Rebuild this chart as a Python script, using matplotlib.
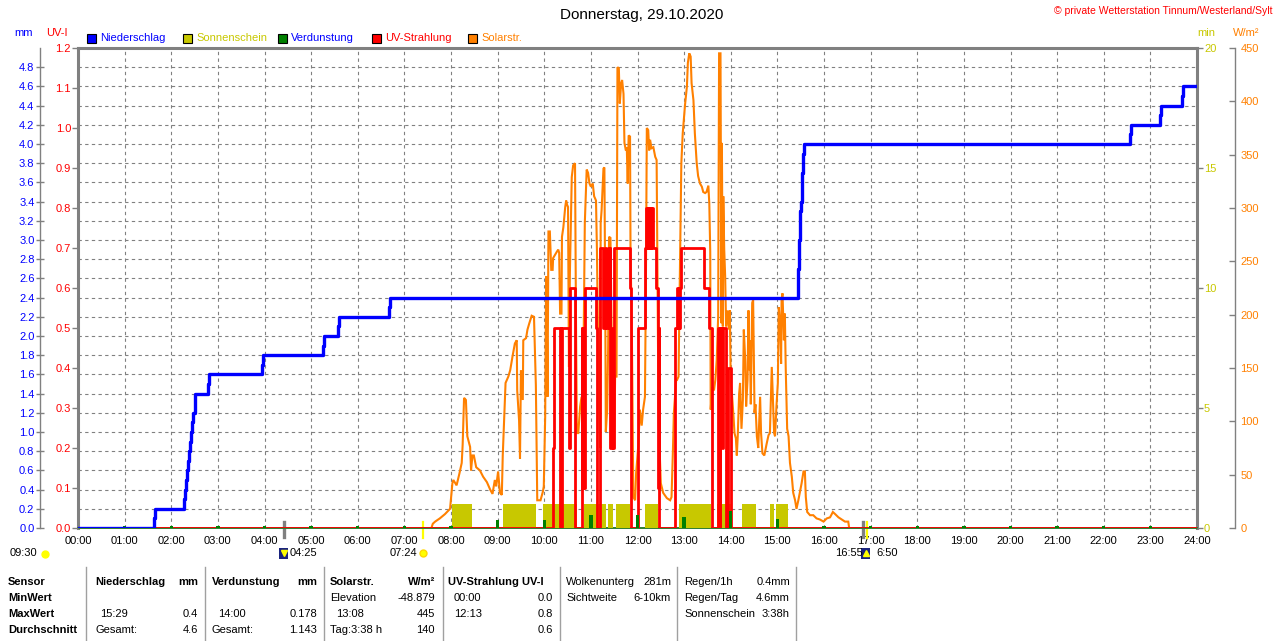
import matplotlib
matplotlib.use('Agg')
import matplotlib.pyplot as plt
from matplotlib.patches import Rectangle
from matplotlib.lines import Line2D
import numpy as np

plt.rcParams['font.family'] = ['Liberation Sans', 'DejaVu Sans']
plt.rcParams['font.size'] = 8

# ---------------- data ----------------
hours = list(range(25))
hour_labels = [f'{h:02d}:00' for h in hours]

# Niederschlag (cumulative mm), step after time (hours)
rain_t = [0.00, 1.64, 1.66, 2.28, 2.30, 2.31, 2.33, 2.36, 2.38, 2.40, 2.42, 2.44, 2.46,
          2.50, 2.52, 2.78, 2.80, 3.95, 3.97, 5.25, 5.27, 5.57, 5.59, 6.67, 6.69,
          15.44, 15.45, 15.46, 15.47, 15.48, 15.49, 15.50, 15.52, 15.53, 15.55, 15.56, 15.57,
          22.56, 22.58, 23.20, 23.22, 23.68, 23.70, 24.00]
rain_v = [0.0, 0.1, 0.2, 0.3, 0.4, 0.5, 0.6, 0.7, 0.8, 0.9, 1.0, 1.1, 1.2,
          1.3, 1.4, 1.5, 1.6, 1.7, 1.8, 1.9, 2.0, 2.1, 2.2, 2.3, 2.4,
          2.5, 2.7, 2.8, 3.0, 3.2, 3.3, 3.4, 3.6, 3.7, 3.8, 3.9, 4.0,
          4.1, 4.2, 4.3, 4.4, 4.5, 4.6, 4.6]

# Sonnenschein (min per min), intervals in hours
sun_start = [8.03, 9.11, 9.98, 10.85, 11.37, 11.54, 12.16, 12.90, 13.70, 14.25, 14.84, 14.97]
sun_end = [8.44, 9.82, 10.70, 11.32, 11.47, 11.84, 12.45, 13.58, 14.02, 14.54, 14.93, 15.22]
sun_val = [1, 1, 1, 1, 1, 1, 1, 1, 1, 1, 1, 1]

# Verdunstung (mm per hour)
evap_h = list(range(1, 24))
evap_v = [0.025, 0.025, 0.025, 0.025, 0.025, 0.025, 0.025, 0.025,
          0.083, 0.083, 0.135, 0.135, 0.11, 0.178, 0.09,
          0.025, 0.025, 0.025, 0.025, 0.025, 0.025, 0.025, 0.025]

# UV-Strahlung (UV-I), step after time
uv_t = [0.00, 10.19, 10.21, 10.33, 10.35, 10.36, 10.38, 10.54, 10.55, 10.67,
        10.80, 10.81, 10.83, 10.85, 10.87, 10.88, 11.11, 11.14, 11.19, 11.25,
        11.31, 11.33, 11.37, 11.38, 11.41, 11.42, 11.45, 11.47, 11.50, 11.84,
        11.86, 12.02, 12.17, 12.19, 12.20, 12.22, 12.24, 12.26, 12.28, 12.30,
        12.33, 12.40, 12.43, 12.45, 12.46, 12.47, 12.81, 12.85, 12.86, 12.88,
        12.89, 12.91, 12.93, 13.43, 13.54, 13.59, 13.72, 13.76, 13.77, 13.82,
        13.84, 13.90, 13.94, 14.00, 24.00]
uv_v = [0.0, 0.2, 0.5, 0.0, 0.5, 0.0, 0.5, 0.2, 0.6, 0.0,
        0.5, 0.1, 0.5, 0.1, 0.5, 0.6, 0.5, 0.0, 0.7, 0.5,
        0.7, 0.5, 0.7, 0.5, 0.7, 0.2, 0.5, 0.2, 0.7, 0.6,
        0.0, 0.5, 0.7, 0.8, 0.7, 0.8, 0.7, 0.8, 0.7, 0.8,
        0.7, 0.6, 0.5, 0.1, 0.5, 0.0, 0.5, 0.6, 0.5, 0.6,
        0.5, 0.6, 0.7, 0.6, 0.5, 0.0, 0.5, 0.0, 0.5, 0.2,
        0.5, 0.0, 0.4, 0.0, 0.0]

# Solarstrahlung (W/m2)
sol_t = [7.58, 7.61, 7.66, 7.76, 7.87, 7.98, 8.03, 8.05, 8.12, 8.18, 8.23, 8.25, 8.28, 8.32,
         8.35, 8.41, 8.43, 8.46, 8.49, 8.54, 8.62, 8.69, 8.77, 8.84, 8.89, 8.94, 8.97, 9.01,
         9.05, 9.09, 9.11, 9.14, 9.17, 9.23, 9.27, 9.32, 9.37, 9.41, 9.42, 9.46, 9.48, 9.50,
         9.54, 9.55, 9.61, 9.64, 9.68, 9.73, 9.78, 9.82, 9.84, 9.85, 9.92, 9.97, 9.99, 10.02,
         10.04, 10.06, 10.07, 10.09, 10.12, 10.15, 10.18, 10.19, 10.27, 10.30, 10.32, 10.34,
         10.37, 10.38, 10.41, 10.45, 10.47, 10.49, 10.51, 10.53, 10.55, 10.59, 10.62, 10.66,
         10.68, 10.70, 10.73, 10.77, 10.80, 10.83, 10.87, 10.91, 10.94, 10.97, 11.00, 11.04,
         11.07, 11.11, 11.13, 11.17, 11.20, 11.21, 11.23, 11.27, 11.29, 11.31, 11.32, 11.35,
         11.37, 11.39, 11.42, 11.45, 11.47, 11.50, 11.52, 11.55, 11.57, 11.60, 11.62, 11.65,
         11.67, 11.70, 11.72, 11.75, 11.77, 11.79, 11.81, 11.84, 11.85, 11.88, 11.91, 11.95,
         11.97, 12.02, 12.05, 12.09, 12.12, 12.16, 12.18, 12.20, 12.23, 12.25, 12.27, 12.30,
         12.34, 12.38, 12.41, 12.43, 12.45, 12.47, 12.50, 12.55, 12.63, 12.70, 12.73, 12.76,
         12.78, 12.83, 12.85, 12.88, 12.91, 12.94, 12.97, 13.00, 13.02, 13.06, 13.08, 13.11,
         13.14, 13.16, 13.20, 13.23, 13.27, 13.30, 13.34, 13.38, 13.41, 13.45, 13.48, 13.52,
         13.54, 13.56, 13.57, 13.60, 13.64, 13.67, 13.70, 13.73, 13.75, 13.78, 13.80, 13.81,
         13.83, 13.84, 13.86, 13.88, 13.90, 13.93, 13.96, 13.98, 14.00, 14.03, 14.06, 14.08,
         14.11, 14.13, 14.15, 14.18, 14.20, 14.23, 14.26, 14.28, 14.31, 14.33, 14.36, 14.38,
         14.40, 14.41, 14.43, 14.46, 14.48, 14.51, 14.53, 14.56, 14.59, 14.63, 14.65, 14.68,
         14.72, 14.77, 14.81, 14.84, 14.88, 14.90, 14.93, 14.95, 14.98, 15.01, 15.03, 15.06,
         15.08, 15.09, 15.11, 15.14, 15.16, 15.18, 15.21, 15.24, 15.27, 15.31, 15.34, 15.38,
         15.41, 15.45, 15.48, 15.52, 15.56, 15.59, 15.61, 15.64, 15.70, 15.77, 15.84, 15.91,
         15.99, 16.06, 16.13, 16.19, 16.24, 16.31, 16.38, 16.45, 16.52, 16.54]
sol_v = [0, 4, 6, 9, 13, 18, 42, 45, 40, 51, 61, 78, 122, 120,
         86, 76, 54, 68, 68, 57, 54, 48, 43, 36, 32, 45, 39, 53,
         33, 31, 68, 103, 136, 142, 148, 161, 173, 176, 129, 101, 65, 148,
         120, 176, 178, 186, 192, 199, 198, 134, 61, 26, 26, 34, 39, 104,
         236, 173, 123, 278, 278, 242, 242, 253, 259, 261, 258, 201,
         201, 273, 282, 301, 307, 303, 301, 151, 239, 329, 340, 342,
         200, 89, 89, 114, 123, 110, 286, 336, 333, 323, 320, 323,
         311, 307, 260, 120, 75, 286, 298, 337, 338, 200, 90, 111,
         167, 273, 272, 167, 76, 76, 142, 142, 432, 431, 398, 417,
         420, 407, 361, 354, 357, 323, 368, 367, 261, 179, 29, 26,
         51, 79, 111, 96, 111, 123, 229, 375, 373, 354, 364, 356,
         357, 348, 345, 223, 111, 79, 42, 33, 28, 26, 29, 73,
         108, 139, 139, 142, 245, 342, 370, 387, 397, 414, 436, 445,
         442, 417, 401, 370, 342, 330, 323, 320, 315, 314, 315, 321,
         304, 259, 111, 132, 129, 139, 158, 198, 445, 445, 192, 361,
         189, 311, 261, 236, 189, 204, 186, 204, 136, 123, 104, 89,
         84, 68, 86, 126, 136, 93, 120, 186, 158, 114, 139, 204,
         148, 176, 116, 211, 214, 108, 116, 86, 75, 123, 89, 70,
         68, 79, 87, 89, 151, 126, 89, 86, 114, 136, 207, 189,
         154, 214, 220, 176, 201, 148, 93, 86, 61, 48, 33, 26,
         18, 26, 33, 42, 53, 53, 29, 15, 12, 12, 9, 8,
         6, 9, 10, 15, 13, 10, 8, 6, 6, 0]

# astronomical events (hours)
moon_events = [4.417, 16.833]
sun_events = [7.40, 16.917]

# table texts
table_rows = [
    # (x, y, text, ha, bold)
    (8, 582, 'Sensor', 'left', True), (8, 598, 'MinWert', 'left', True),
    (8, 614, 'MaxWert', 'left', True), (8, 630, 'Durchschnitt', 'left', True),
    (95, 582, 'Niederschlag', 'left', True), (198, 582, 'mm', 'right', True),
    (100, 614, '15:29', 'left', False), (198, 614, '0.4', 'right', False),
    (95, 630, 'Gesamt:', 'left', False), (198, 630, '4.6', 'right', False),
    (212, 582, 'Verdunstung', 'left', True), (317, 582, 'mm', 'right', True),
    (218, 614, '14:00', 'left', False), (317, 614, '0.178', 'right', False),
    (212, 630, 'Gesamt:', 'left', False), (317, 630, '1.143', 'right', False),
    (330, 582, 'Solarstr.', 'left', True), (435, 582, 'W/m²', 'right', True),
    (330, 598, 'Elevation', 'left', False), (435, 598, '-48.879', 'right', False),
    (336, 614, '13:08', 'left', False), (435, 614, '445', 'right', False),
    (330, 630, 'Tag:3:38 h', 'left', False), (435, 630, '140', 'right', False),
    (448, 582, 'UV-Strahlung UV-I', 'left', True),
    (454, 598, '00:00', 'left', False), (553, 598, '0.0', 'right', False),
    (454, 614, '12:13', 'left', False), (553, 614, '0.8', 'right', False),
    (553, 630, '0.6', 'right', False),
    (566, 582, 'Wolkenunterg', 'left', False), (671, 582, '281m', 'right', False),
    (566, 598, 'Sichtweite', 'left', False), (671, 598, '6-10km', 'right', False),
    (684, 582, 'Regen/1h', 'left', False), (790, 582, '0.4mm', 'right', False),
    (684, 598, 'Regen/Tag', 'left', False), (790, 598, '4.6mm', 'right', False),
    (684, 614, 'Sonnenschein', 'left', False), (790, 614, '3:38h', 'right', False),
]
table_sep_x = [86, 205, 324, 443, 560, 677, 796]

# ---------------- figure ----------------
W, H = 1280, 641
fig = plt.figure(figsize=(12.8, 6.41), dpi=100)
fig.patch.set_facecolor('white')

def fx(x):
    return x / W

def fy(y):
    return 1 - y / H

L, R, T, B = 78, 1197, 48, 528
rect = [L / W, 1 - B / H, (R - L) / W, (B - T) / H]

BLUE = '#0000FF'
RED = '#FF0000'
ORANGE = '#FF8000'
YEL = '#C8C800'
GREEN = '#008000'
GREY = '#808080'

ax = fig.add_axes(rect)
ax.set_xlim(0, 24)
ax.set_ylim(0, 5)
ax.set_xticks(hours)
ax.set_xticklabels(hour_labels)
ax.set_yticks(np.arange(0.2, 4.81, 0.2))
ax.grid(True, color=GREY, linestyle=(0, (3, 3)), linewidth=0.8)
ax.tick_params(axis='y', length=0, labelleft=False, labelright=False)
ax.tick_params(axis='x', length=0, pad=6, labelsize=8)
for s in ['left', 'top', 'right']:
    ax.spines[s].set_color(GREY)
    ax.spines[s].set_linewidth(2.2)
ax.spines['bottom'].set_color('#2E7D32')
ax.spines['bottom'].set_linewidth(1.4)

def clean(a):
    for s in a.spines.values():
        s.set_visible(False)

# sunshine axis (min), right at frame
ax_sun = ax.twinx()
clean(ax_sun)
ax_sun.set_ylim(0, 20)
ax_sun.set_yticks([0, 5, 10, 15, 20])
ax_sun.tick_params(axis='y', direction='out', length=4, width=1, color=GREY,
                   labelcolor=YEL, labelsize=8, pad=1)
ax_sun.bar(sun_start, sun_val, width=np.array(sun_end) - np.array(sun_start),
           align='edge', color=YEL, linewidth=0)

# solar radiation axis
ax_sol = ax.twinx()
clean(ax_sol)
ax_sol.spines['right'].set_visible(True)
ax_sol.spines['right'].set_position(('outward', 38 * 0.72))
ax_sol.spines['right'].set_color(GREY)
ax_sol.spines['right'].set_linewidth(1)
ax_sol.set_ylim(0, 450)
ax_sol.set_yticks(range(0, 451, 50))
ax_sol.tick_params(axis='y', direction='in', length=4, width=1, color=GREY,
                   labelcolor=ORANGE, labelsize=8, pad=4)
ax_sol.plot(sol_t, sol_v, color=ORANGE, linewidth=1.5, solid_joinstyle='miter')

# UV axis (left, at frame)
ax_uv = ax.twinx()
clean(ax_uv)
ax_uv.yaxis.tick_left()
ax_uv.set_ylim(0, 1.2)
ax_uv.set_yticks(np.arange(0, 1.21, 0.1))
ax_uv.set_yticklabels([f'{v:.1f}' for v in np.arange(0, 1.21, 0.1)])
ax_uv.tick_params(axis='y', direction='out', length=4, width=1, color=GREY,
                  labelcolor=RED, labelsize=8, pad=1)
ax_uv.step(uv_t, uv_v, where='post', color=RED, linewidth=2.0)

# mm axis (outer left)
ax_mm = ax.twinx()
clean(ax_mm)
ax_mm.yaxis.tick_left()
ax_mm.spines['left'].set_visible(True)
ax_mm.spines['left'].set_position(('outward', 38 * 0.72))
ax_mm.spines['left'].set_color(GREY)
ax_mm.spines['left'].set_linewidth(1)
ax_mm.set_ylim(0, 5)
mm_ticks = np.arange(0, 4.81, 0.2)
ax_mm.set_yticks(mm_ticks)
ax_mm.set_yticklabels([f'{v:.1f}' for v in mm_ticks])
ax_mm.tick_params(axis='y', direction='inout', length=6, width=1, color=GREY,
                  labelcolor=BLUE, labelsize=8, pad=1)
ax_mm.bar(evap_h, evap_v, width=0.07, color=GREEN, linewidth=0)
ax_mm.step(rain_t, rain_v, where='post', color=BLUE, linewidth=2.4)

# event markers across the time axis
tr = ax.get_xaxis_transform()
for t in moon_events:
    ax.add_line(Line2D([t, t], [-0.018, 0.013], transform=tr, color=GREY,
                       linewidth=2.4, clip_on=False))
for t in sun_events:
    ax.add_line(Line2D([t, t], [-0.02, 0.013], transform=tr, color='#FFFF00',
                       linewidth=1.6, clip_on=False))

# ---------------- texts ----------------
fig.text(fx(642), fy(15), 'Donnerstag, 29.10.2020', ha='center', va='center', fontsize=11)
fig.text(fx(1273), fy(11), '© private Wetterstation Tinnum/Westerland/Sylt', ha='right',
         va='center', fontsize=7.5, color=RED)

fig.text(fx(14), fy(33), 'mm', color=BLUE, va='center', fontsize=8)
fig.text(fx(46), fy(33), 'UV-I', color=RED, va='center', fontsize=8)
fig.text(fx(1197), fy(33), 'min', color=YEL, va='center', fontsize=8)
fig.text(fx(1233), fy(33), 'W/m²', color=ORANGE, va='center', fontsize=8)

legend_items = [('Niederschlag', BLUE, BLUE), ('Sonnenschein', YEL, YEL),
                ('Verdunstung', GREEN, BLUE), ('UV-Strahlung', RED, RED),
                ('Solarstr.', ORANGE, ORANGE)]
legend_x = [87, 183, 278, 372, 468]
for (name, fc, tc), lx in zip(legend_items, legend_x):
    fig.add_artist(Rectangle((fx(lx), fy(43)), 9 / W, 9 / H, transform=fig.transFigure,
                             facecolor=fc, edgecolor='black', linewidth=0.8))
    fig.text(fx(lx + 13), fy(38), name, color=tc, va='center', fontsize=8)

# bottom event annotations
fig.text(fx(10), fy(553), '09:30', va='center', fontsize=8)
fig.add_artist(Line2D([fx(45)], [fy(554)], marker='o', markersize=5, color='#FFFF00',
                      transform=fig.transFigure))
fig.add_artist(Rectangle((fx(279), fy(559)), 9 / W, 11 / H, transform=fig.transFigure,
                         facecolor='#1A237E', edgecolor='none'))
fig.add_artist(Line2D([fx(283.5)], [fy(553)], marker='v', markersize=4, color='#FFFF00',
                      transform=fig.transFigure))
fig.text(fx(290), fy(553), '04:25', va='center', fontsize=8)
fig.text(fx(390), fy(553), '07:24', va='center', fontsize=8)
fig.add_artist(Line2D([fx(423)], [fy(553)], marker='o', markersize=5, color='#FFFF00',
                      markeredgecolor='#FFD700', transform=fig.transFigure))
fig.text(fx(835), fy(553), '16:55', va='center', fontsize=8)
fig.add_artist(Rectangle((fx(861), fy(559)), 9 / W, 11 / H, transform=fig.transFigure,
                         facecolor='#1A237E', edgecolor='none'))
fig.add_artist(Line2D([fx(865.5)], [fy(553)], marker='^', markersize=4, color='#FFFF00',
                      transform=fig.transFigure))
fig.text(fx(876), fy(553), '6:50', va='center', fontsize=8)

# table
for x, y, txt, ha, bold in table_rows:
    fig.text(fx(x), fy(y), txt, ha=ha, va='center', fontsize=8,
             fontweight='bold' if bold else 'normal')
for sx in table_sep_x:
    fig.add_artist(Line2D([fx(sx), fx(sx)], [fy(567), fy(641)], color='#A0A0A0',
                          linewidth=1, transform=fig.transFigure))

fig.savefig('out.png', dpi=100, facecolor='white')
